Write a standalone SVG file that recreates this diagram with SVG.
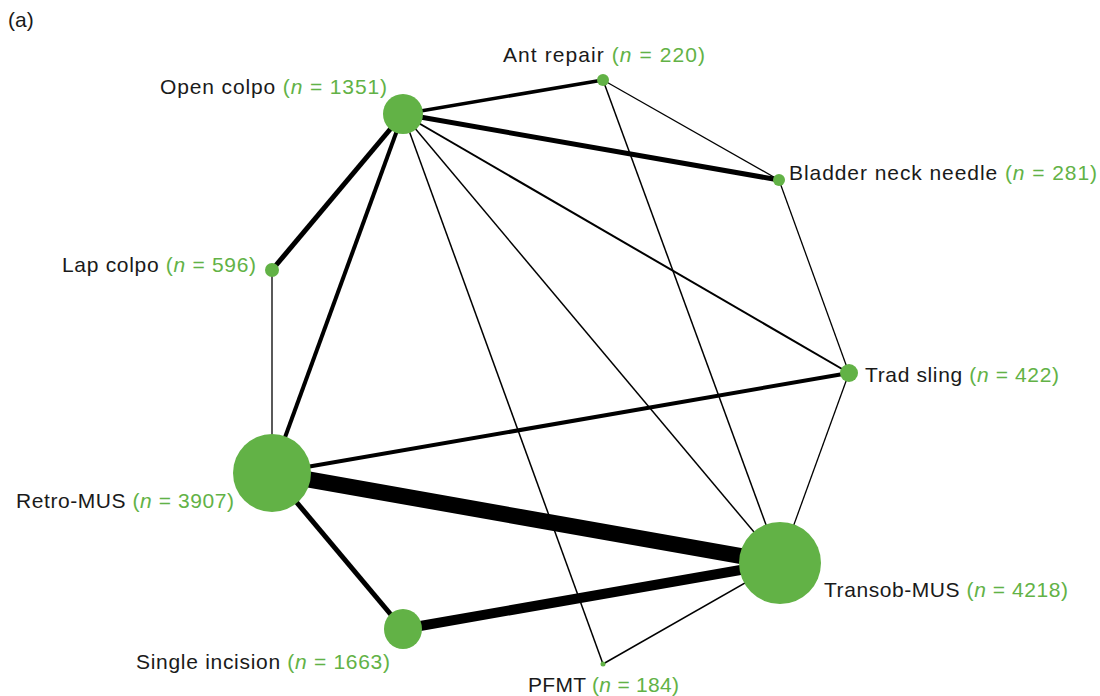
<svg xmlns="http://www.w3.org/2000/svg" width="1100" height="696" viewBox="0 0 1100 696">
<style>
.e{stroke:#000;fill:none;stroke-linecap:butt}
.n{fill:#62b246}
.t{font-family:"Liberation Sans",Arial,sans-serif;font-size:21px;fill:#1a1a1a}
.g{fill:#62b246}
</style>
<rect width="1100" height="696" fill="#fff"/>
<text class="t" x="8" y="27">(a)</text>
<g id="edges">
<line class="e" x1="403" y1="114" x2="603" y2="80" stroke-width="3.5"/>
<line class="e" x1="403" y1="114" x2="779" y2="180" stroke-width="5"/>
<line class="e" x1="403" y1="114" x2="272" y2="270" stroke-width="5"/>
<line class="e" x1="403" y1="114" x2="272" y2="473" stroke-width="4"/>
<line class="e" x1="403" y1="114" x2="849" y2="373" stroke-width="2"/>
<line class="e" x1="403" y1="114" x2="780" y2="563" stroke-width="1.5"/>
<line class="e" x1="403" y1="114" x2="603" y2="664" stroke-width="1.5"/>
<line class="e" x1="603" y1="80" x2="779" y2="180" stroke-width="1.3"/>
<line class="e" x1="603" y1="80" x2="780" y2="563" stroke-width="1.5"/>
<line class="e" x1="779" y1="180" x2="849" y2="373" stroke-width="1.3"/>
<line class="e" x1="272" y1="270" x2="272" y2="473" stroke-width="1.3"/>
<line class="e" x1="272" y1="473" x2="849" y2="373" stroke-width="4"/>
<line class="e" x1="272" y1="473" x2="780" y2="563" stroke-width="16"/>
<line class="e" x1="272" y1="473" x2="403" y2="629" stroke-width="5"/>
<line class="e" x1="403" y1="629" x2="780" y2="563" stroke-width="10"/>
<line class="e" x1="849" y1="373" x2="780" y2="563" stroke-width="1.3"/>
<line class="e" x1="603" y1="664" x2="780" y2="563" stroke-width="1.5"/>
</g>
<g id="open-colpo"><circle class="n" cx="403" cy="114" r="20"/><text class="t" x="160" y="94" textLength="227">Open colpo <tspan class="g">(<tspan font-style="italic">n</tspan> = 1351)</tspan></text></g>
<g id="ant-repair"><circle class="n" cx="603" cy="80" r="6"/><text class="t" x="503" y="62" textLength="202">Ant repair <tspan class="g">(<tspan font-style="italic">n</tspan> = 220)</tspan></text></g>
<g id="bladder-neck"><circle class="n" cx="779" cy="180" r="6"/><text class="t" x="789" y="180" textLength="308">Bladder neck needle <tspan class="g">(<tspan font-style="italic">n</tspan> = 281)</tspan></text></g>
<g id="lap-colpo"><circle class="n" cx="272" cy="270" r="7"/><text class="t" x="62" y="272" textLength="194">Lap colpo <tspan class="g">(<tspan font-style="italic">n</tspan> = 596)</tspan></text></g>
<g id="trad-sling"><circle class="n" cx="849" cy="373" r="9"/><text class="t" x="865" y="382" textLength="194">Trad sling <tspan class="g">(<tspan font-style="italic">n</tspan> = 422)</tspan></text></g>
<g id="retro-mus"><circle class="n" cx="272" cy="473" r="39"/><text class="t" x="16" y="508" textLength="218">Retro-MUS <tspan class="g">(<tspan font-style="italic">n</tspan> = 3907)</tspan></text></g>
<g id="transob-mus"><circle class="n" cx="780" cy="563" r="41"/><text class="t" x="824" y="597" textLength="244">Transob-MUS <tspan class="g">(<tspan font-style="italic">n</tspan> = 4218)</tspan></text></g>
<g id="single-incision"><ellipse class="n" cx="403" cy="629" rx="19" ry="20"/><text class="t" x="136" y="669" textLength="254">Single incision <tspan class="g">(<tspan font-style="italic">n</tspan> = 1663)</tspan></text></g>
<g id="pfmt"><circle class="n" cx="603" cy="664" r="2.5"/><text class="t" x="528" y="692" textLength="151">PFMT <tspan class="g">(<tspan font-style="italic">n</tspan> = 184)</tspan></text></g>
</svg>
